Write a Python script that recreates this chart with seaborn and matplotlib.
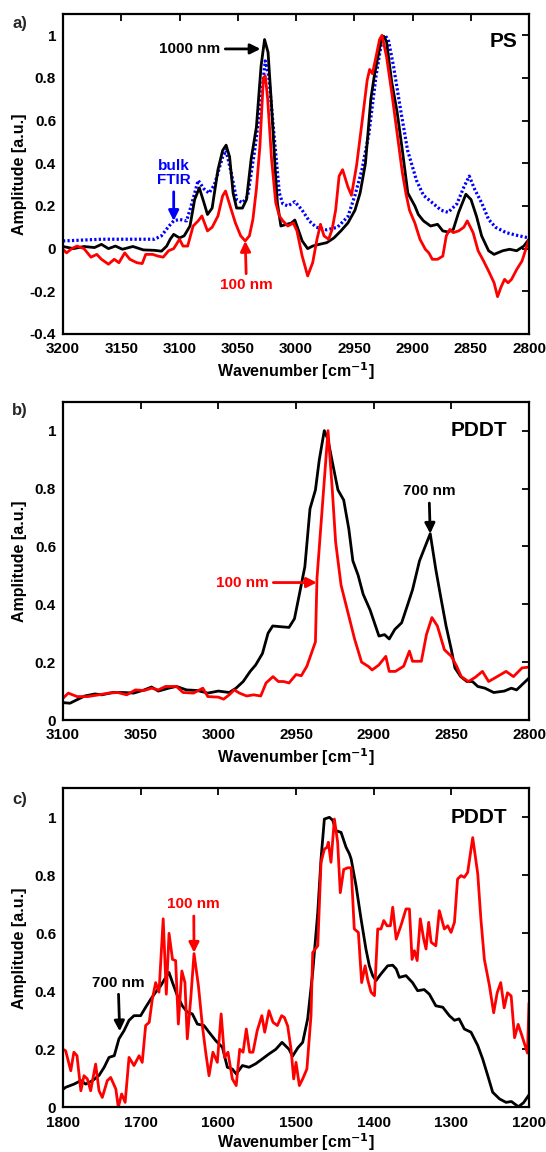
import matplotlib
matplotlib.use("Agg")
import matplotlib.pyplot as plt
import seaborn as sns
import pandas as pd
from matplotlib.ticker import FuncFormatter

# ---------------- data: panel a (PS) ----------------
ps_black_x = [3200, 3191, 3182, 3173, 3167, 3161, 3155, 3149, 3140, 3131, 3121.5, 3115.5, 3111, 3108, 3105, 3100, 3096, 3091, 3087, 3083,
              3079, 3076, 3072, 3067, 3063, 3060, 3057, 3054, 3051, 3046, 3042.5, 3038.5, 3034, 3030, 3027, 3024, 3021, 3018, 3016, 3013,
              3008, 3004, 3001, 2997.7, 2994.7, 2990, 2985.7, 2980, 2973.6, 2967.5, 2961.5, 2955.5, 2949.4, 2945, 2940.4, 2935.8, 2932.8, 2930, 2926.8, 2924.7,
              2922.3, 2917.8, 2913.2, 2908.7, 2904, 2898, 2895, 2890.6, 2884.5, 2878.5, 2874, 2869.4, 2865, 2860.4, 2854.2, 2849.8, 2845, 2840.7, 2834.7, 2830,
              2822.6, 2816.6, 2810.6, 2804.5, 2800]
ps_black_y = [0.01, 0.0, 0.01, 0.005, 0.02, 0.0, 0.012, -0.003, 0.01, -0.006, -0.008, -0.012, 0.012, 0.044, 0.067, 0.05, 0.06, 0.106, 0.23, 0.285,
              0.215, 0.16, 0.19, 0.37, 0.46, 0.485, 0.43, 0.26, 0.19, 0.19, 0.23, 0.42, 0.57, 0.855, 0.98, 0.92, 0.67, 0.385, 0.215, 0.106,
              0.114, 0.12, 0.134, 0.083, 0.036, 0.0, 0.012, 0.02, 0.028, 0.05, 0.083, 0.12, 0.18, 0.26, 0.40, 0.70, 0.81, 0.89, 0.98, 0.995,
              0.97, 0.78, 0.64, 0.46, 0.26, 0.2, 0.16, 0.13, 0.106, 0.114, 0.083, 0.078, 0.09, 0.17, 0.255, 0.23, 0.15, 0.06, -0.01, -0.027,
              -0.01, -0.003, -0.01, 0.012, 0.044]

ps_blue_x = [3200, 3167, 3121.5, 3115.5, 3109, 3105, 3100, 3094, 3090, 3084, 3079, 3074.7, 3070, 3063, 3060, 3055, 3051, 3046, 3041.5, 3035.5,
             3031, 3026.4, 3023.4, 3019, 3014.3, 3011.3, 3007, 3001, 2994.7, 2988.7, 2982.6, 2973.6, 2964.5, 2955.5, 2949.4, 2943.4, 2937.4, 2931.3, 2926.8, 2923.8,
             2920.8, 2916.3, 2910.2, 2904.2, 2896.6, 2890.6, 2883, 2875.5, 2869.4, 2861.9, 2855.8, 2851.3, 2846.8, 2840.7, 2834.7, 2828.7, 2819.6, 2810.6, 2800]
ps_blue_y = [0.036, 0.044, 0.044, 0.06, 0.106, 0.13, 0.137, 0.13, 0.2, 0.32, 0.28, 0.26, 0.30, 0.43, 0.46, 0.34, 0.23, 0.215, 0.245, 0.46,
             0.65, 0.88, 0.81, 0.54, 0.26, 0.21, 0.2, 0.22, 0.18, 0.13, 0.1, 0.088, 0.1, 0.15, 0.25, 0.37, 0.54, 0.81, 0.96, 1.0,
             0.98, 0.855, 0.65, 0.46, 0.32, 0.25, 0.215, 0.18, 0.17, 0.21, 0.29, 0.34, 0.28, 0.215, 0.137, 0.1, 0.075, 0.0625, 0.05]

ps_red_x = [3200, 3197, 3192.5, 3188, 3182, 3176, 3171, 3167, 3161, 3156, 3152, 3147, 3142.6, 3136.6, 3132, 3129, 3123, 3118.5, 3114, 3109.4,
            3105, 3100, 3097, 3093, 3088.3, 3084, 3080.8, 3076, 3072, 3067, 3063, 3060.5, 3056.6, 3052, 3047.5, 3043.6, 3040, 3037, 3034, 3031,
            3028, 3026.4, 3024.3, 3021, 3017.4, 3014.3, 3011.3, 3007, 3002.3, 2999.2, 2994.7, 2990, 2985.7, 2982, 2979, 2976, 2972, 2969, 2966, 2963,
            2960, 2955.5, 2952.4, 2948, 2943.4, 2938.9, 2936.8, 2934.4, 2931.3, 2928.3, 2926.2, 2922.3, 2917.8, 2913.2, 2908.7, 2905.7, 2902.6, 2898, 2893.6, 2889,
            2886, 2883, 2878.5, 2874, 2871, 2868, 2865, 2860.4, 2856, 2853, 2848, 2843.7, 2839, 2834.7, 2830, 2827, 2824, 2821, 2818, 2815,
            2810.5, 2806, 2800]
ps_red_y = [-0.003, -0.02, 0.0, 0.012, 0.0, -0.04, -0.027, -0.05, -0.073, -0.05, -0.066, -0.02, -0.05, -0.066, -0.07, -0.027, -0.027, -0.035, -0.04, -0.01,
            0.0, 0.044, 0.012, 0.012, 0.106, 0.13, 0.153, 0.083, 0.1, 0.153, 0.247, 0.27, 0.2, 0.12, 0.06, 0.036, 0.06, 0.137, 0.28, 0.48,
            0.8, 0.81, 0.7, 0.42, 0.215, 0.153, 0.13, 0.106, 0.12, 0.083, -0.035, -0.128, -0.066, 0.044, 0.114, 0.06, 0.044, 0.09, 0.18, 0.34,
            0.37, 0.29, 0.25, 0.39, 0.59, 0.79, 0.84, 0.82, 0.9, 0.98, 1.0, 0.9, 0.73, 0.54, 0.355, 0.26, 0.18, 0.12, 0.044, -0.003,
            -0.02, -0.05, -0.05, -0.035, 0.06, 0.09, 0.075, 0.083, 0.1, 0.13, 0.075, -0.01, -0.058, -0.105, -0.16, -0.225, -0.18, -0.144, -0.16, -0.144,
            -0.097, -0.058, 0.044]

# ---------------- data: panel b (PDDT, C-H stretch) ----------------
pb_black_x = [3100, 3095.5, 3091, 3086, 3079.5, 3075, 3068, 3061, 3054.5, 3047.7, 3043, 3038.6, 3032, 3027, 3020.5, 3013.6, 3006.8, 3000, 2993, 2988.6,
              2984, 2979.5, 2976, 2971.6, 2968, 2965, 2959, 2954.5, 2951, 2948, 2944.3, 2941, 2937.5, 2935, 2931.8, 2929.5, 2926, 2923, 2919.3, 2916,
              2913.4, 2910, 2906.8, 2902.3, 2896.6, 2893, 2890, 2886.4, 2882, 2878.4, 2875, 2870.5, 2863.6, 2860, 2857, 2853.4, 2850, 2847.7, 2844, 2840,
              2836.4, 2833, 2828.4, 2822.7, 2815.9, 2811.4, 2808, 2804.5, 2800]
pb_black_y = [0.06, 0.058, 0.07, 0.083, 0.09, 0.087, 0.095, 0.095, 0.093, 0.104, 0.114, 0.1, 0.11, 0.116, 0.104, 0.102, 0.093, 0.1, 0.095, 0.11,
              0.133, 0.168, 0.19, 0.23, 0.30, 0.325, 0.322, 0.32, 0.35, 0.43, 0.53, 0.73, 0.795, 0.9, 1.0, 0.97, 0.875, 0.795, 0.76, 0.66,
              0.55, 0.5, 0.435, 0.38, 0.29, 0.295, 0.28, 0.313, 0.336, 0.394, 0.45, 0.55, 0.644, 0.52, 0.43, 0.325, 0.243, 0.18, 0.15, 0.133,
              0.133, 0.116, 0.11, 0.095, 0.1, 0.11, 0.104, 0.122, 0.145]

pb_red_x = [3100, 3096.6, 3091, 3084, 3077, 3070.5, 3064.8, 3059, 3053.4, 3047.7, 3043, 3038.6, 3034, 3027, 3022.7, 3016, 3010, 3006.8, 3000, 2996.6,
            2993, 2989.8, 2986.4, 2981.8, 2977.3, 2972.7, 2969.3, 2964.8, 2961.4, 2958, 2954.5, 2950, 2946.6, 2943, 2937.5, 2936.5, 2929.4, 2926.7, 2924.5, 2921,
            2916.7, 2912.3, 2907.8, 2903.4, 2901, 2896.7, 2892.2, 2890, 2886, 2880.7, 2877, 2875, 2869.3, 2866, 2862.5, 2859, 2854.5, 2850, 2846.6, 2843.6,
            2839, 2834.5, 2830, 2826, 2820.5, 2814.8, 2810, 2804.5, 2800]
pb_red_y = [0.075, 0.093, 0.081, 0.081, 0.087, 0.093, 0.095, 0.087, 0.104, 0.102, 0.11, 0.104, 0.116, 0.116, 0.095, 0.093, 0.11, 0.081, 0.079, 0.072,
            0.087, 0.104, 0.093, 0.083, 0.087, 0.083, 0.128, 0.15, 0.133, 0.133, 0.128, 0.157, 0.153, 0.186, 0.27, 0.49, 1.0, 0.8, 0.615, 0.466,
            0.374, 0.28, 0.2, 0.185, 0.173, 0.19, 0.22, 0.168, 0.168, 0.186, 0.238, 0.203, 0.203, 0.296, 0.354, 0.325, 0.243, 0.22, 0.186, 0.15,
            0.133, 0.148, 0.168, 0.133, 0.15, 0.168, 0.15, 0.18, 0.183]

# ---------------- data: panel c (PDDT, fingerprint) ----------------
pc_black_x = [1800, 1796.6, 1785.8, 1777, 1770.8, 1762, 1753.6, 1747, 1740.8, 1734, 1728, 1721.5, 1715, 1708.6, 1700, 1693.6, 1687, 1680.7, 1674, 1667.8,
              1663.5, 1659, 1652.8, 1646.4, 1640, 1633.5, 1627, 1618.5, 1612, 1603.4, 1594.8, 1588.4, 1582, 1577, 1569, 1560.5, 1552, 1543.3, 1534.8, 1526,
              1518, 1509, 1504.5, 1497.7, 1491.4, 1485, 1478.5, 1472, 1467.8, 1463.5, 1457, 1452.8, 1448.5, 1442, 1435.6, 1431.3, 1429, 1422.7, 1416.3, 1410,
              1405.6, 1401.3, 1397, 1390.6, 1382, 1375.5, 1371, 1367, 1358.4, 1350, 1343.4, 1335, 1328.3, 1320, 1311, 1302.6, 1296, 1290, 1283.3, 1274.7,
              1266, 1259.7, 1253.2, 1246.8, 1238, 1229.6, 1222.7, 1213.6, 1207, 1200]
pc_black_y = [0.062, 0.069, 0.08, 0.092, 0.08, 0.092, 0.11, 0.138, 0.172, 0.178, 0.236, 0.264, 0.3, 0.316, 0.316, 0.345, 0.373, 0.397, 0.42, 0.448,
              0.465, 0.43, 0.385, 0.35, 0.328, 0.322, 0.287, 0.282, 0.259, 0.23, 0.207, 0.138, 0.132, 0.115, 0.144, 0.138, 0.15, 0.167, 0.184, 0.2,
              0.224, 0.2, 0.176, 0.205, 0.224, 0.305, 0.466, 0.672, 0.856, 0.994, 1.0, 0.99, 0.954, 0.948, 0.897, 0.874, 0.856, 0.764, 0.65, 0.546,
              0.488, 0.454, 0.437, 0.46, 0.488, 0.49, 0.477, 0.448, 0.454, 0.43, 0.402, 0.406, 0.39, 0.35, 0.345, 0.316, 0.3, 0.305, 0.27, 0.259,
              0.213, 0.167, 0.11, 0.052, 0.029, 0.017, 0.02, 0.002, 0.016, 0.043]

pc_red_x = [1800, 1796.6, 1790, 1786, 1782, 1777, 1773, 1768.7, 1764.4, 1758, 1753.6, 1749.4, 1743, 1738.6, 1732, 1728.8, 1724.5, 1720, 1715, 1708.6,
            1702, 1698, 1693.6, 1689, 1685, 1680.7, 1676.4, 1671, 1667, 1663.5, 1659, 1655, 1651.5, 1647, 1643, 1640, 1635.6, 1631.3, 1625.7, 1620.6,
            1616.3, 1612, 1607, 1601.3, 1596.4, 1592, 1587.6, 1582, 1577, 1572.5, 1568.2, 1564, 1559.7, 1555.4, 1550, 1544, 1540.3, 1534.8, 1529.6, 1524,
            1518.5, 1515, 1510.7, 1506.4, 1503, 1500, 1495.7, 1491.4, 1486, 1480.7, 1478.5, 1472, 1467.8, 1463.5, 1460, 1458.4, 1455, 1450.6, 1446.4, 1443,
            1438.6, 1433.5, 1429, 1425, 1419.7, 1415.5, 1411, 1407.7, 1403.4, 1399, 1394.8, 1390.6, 1387, 1382.8, 1378.5, 1375.5, 1371, 1365, 1358.4, 1354,
            1350.6, 1347.6, 1344, 1340, 1335.6, 1332.6, 1329.2, 1326, 1320, 1315.5, 1309, 1304.7, 1300.4, 1296, 1292, 1287.6, 1283.3, 1279, 1272.5, 1266,
            1262, 1257.5, 1251, 1245.5, 1241, 1236.4, 1232, 1227.7, 1223, 1218.6, 1214, 1209.5, 1202, 1200]
pc_red_y = [0.2, 0.195, 0.126, 0.19, 0.178, 0.057, 0.109, 0.098, 0.057, 0.149, 0.057, 0.034, 0.092, 0.103, 0.063, 0.0, 0.046, 0.017, 0.172, 0.144,
            0.178, 0.155, 0.282, 0.293, 0.373, 0.43, 0.397, 0.65, 0.39, 0.6, 0.51, 0.506, 0.287, 0.47, 0.43, 0.236, 0.373, 0.53, 0.42, 0.282,
            0.19, 0.109, 0.19, 0.155, 0.322, 0.172, 0.19, 0.098, 0.075, 0.2, 0.19, 0.27, 0.19, 0.19, 0.264, 0.316, 0.259, 0.333, 0.293, 0.282,
            0.316, 0.31, 0.28, 0.2, 0.098, 0.155, 0.075, 0.098, 0.132, 0.316, 0.534, 0.557, 0.845, 0.89, 0.897, 0.914, 0.845, 0.994, 0.914, 0.74,
            0.82, 0.826, 0.826, 0.615, 0.603, 0.43, 0.488, 0.44, 0.397, 0.385, 0.615, 0.615, 0.644, 0.626, 0.626, 0.69, 0.58, 0.626, 0.684, 0.684,
            0.51, 0.54, 0.506, 0.65, 0.58, 0.546, 0.638, 0.569, 0.557, 0.678, 0.615, 0.626, 0.603, 0.638, 0.787, 0.799, 0.793, 0.81, 0.93, 0.805,
            0.65, 0.51, 0.42, 0.326, 0.395, 0.43, 0.343, 0.395, 0.384, 0.24, 0.286, 0.25, 0.187, 0.36]

# tick definitions
xticks_a = [3200, 3150, 3100, 3050, 3000, 2950, 2900, 2850, 2800]
yticks_a = [-0.4, -0.2, 0, 0.2, 0.4, 0.6, 0.8, 1]
xticks_b = [3100, 3050, 3000, 2950, 2900, 2850, 2800]
xticks_c = [1800, 1700, 1600, 1500, 1400, 1300, 1200]
yticks_bc = [0, 0.2, 0.4, 0.6, 0.8, 1]

# ---------------- styling ----------------
sns.set_theme(style="white")
plt.rcParams['font.family'] = ['Liberation Sans', 'DejaVu Sans']
plt.rcParams['font.weight'] = 'bold'
plt.rcParams['axes.labelweight'] = 'bold'
plt.rcParams['mathtext.default'] = 'bf'

BLACK = '#000000'
RED = '#ff0000'
BLUE = '#0000ff'
LW = 2.0
FS = 11

fig = plt.figure(figsize=(5.46, 11.52), dpi=100)
L, W = 0.1154, 0.8535
ax_a = fig.add_axes([L, 0.7101, W, 0.2778])
ax_b = fig.add_axes([L, 0.3750, W, 0.2763])
ax_c = fig.add_axes([L, 0.0388, W, 0.2769])

fmt = FuncFormatter(lambda v, p: '%g' % round(v, 3))


def draw(ax, x, y, color, ls='-', lw=LW):
    df = pd.DataFrame({'x': x, 'y': y})
    sns.lineplot(data=df, x='x', y='y', ax=ax, color=color, lw=lw, linestyle=ls,
                 estimator=None, sort=False, legend=False)


def style(ax, xlim, xticks, ylim, yticks, labelpad=3):
    ax.set_xlim(*xlim)
    ax.set_ylim(*ylim)
    ax.set_xticks(xticks)
    ax.set_yticks(yticks)
    ax.xaxis.set_major_formatter(fmt)
    ax.yaxis.set_major_formatter(fmt)
    ax.tick_params(direction='in', top=True, right=True, length=5, width=1.3,
                   labelsize=FS, color='black', labelcolor='black')
    ax.tick_params(axis='x', pad=6)
    ax.tick_params(axis='y', pad=5)
    for lab in ax.get_xticklabels() + ax.get_yticklabels():
        lab.set_fontweight('bold')
    for s in ax.spines.values():
        s.set_visible(True)
        s.set_color('black')
        s.set_linewidth(1.6)
    ax.set_xlabel('Wavenumber [cm$^{-1}$]', fontsize=11.5, fontweight='bold', color='black', labelpad=labelpad)
    ax.set_ylabel('Amplitude [a.u.]', fontsize=11.5, fontweight='bold', color='black')
    ax.yaxis.set_label_coords(-0.078, 0.5)


def note(ax, txt, xy, xytext, color, fs=FS):
    ax.annotate(txt, xy=xy, xytext=xytext, color=color, fontsize=fs, fontweight='bold',
                ha='center', va='center',
                arrowprops=dict(arrowstyle='-|>', color=color, lw=2, mutation_scale=15,
                                shrinkA=1, shrinkB=0))


# panel a
draw(ax_a, ps_blue_x, ps_blue_y, BLUE, ls=(0, (0.7, 0.7)), lw=2.3)
draw(ax_a, ps_black_x, ps_black_y, BLACK)
draw(ax_a, ps_red_x, ps_red_y, RED)
style(ax_a, (3200, 2800), xticks_a, (-0.4, 1.1), yticks_a)
ax_a.text(2822, 0.97, 'PS', fontsize=15, fontweight='bold', ha='center', va='center', color='black')
note(ax_a, '1000 nm', (3030.5, 0.936), (3091, 0.936), BLACK)
ax_a.annotate('bulk\nFTIR', xy=(3105, 0.13), xytext=(3105, 0.355), color=BLUE, fontsize=FS,
              fontweight='bold', ha='center', va='center', linespacing=1.05,
              arrowprops=dict(arrowstyle='-|>', color=BLUE, lw=2, mutation_scale=15, shrinkA=1, shrinkB=0))
note(ax_a, '100 nm', (3043.6, 0.036), (3042.5, -0.172), RED)

# panel b
draw(ax_b, pb_black_x, pb_black_y, BLACK)
draw(ax_b, pb_red_x, pb_red_y, RED)
style(ax_b, (3100, 2800), xticks_b, (0, 1.1), yticks_bc)
ax_b.text(2832, 1.0, 'PDDT', fontsize=15, fontweight='bold', ha='center', va='center', color='black')
note(ax_b, '700 nm', (2863.6, 0.644), (2864.4, 0.79), BLACK)
note(ax_b, '100 nm', (2936.6, 0.475), (2984.6, 0.475), RED)

# panel c
draw(ax_c, pc_black_x, pc_black_y, BLACK)
draw(ax_c, pc_red_x, pc_red_y, RED)
style(ax_c, (1800, 1200), xticks_c, (0, 1.1), yticks_bc, labelpad=1)
ax_c.text(1265, 1.0, 'PDDT', fontsize=15, fontweight='bold', ha='center', va='center', color='black')
note(ax_c, '100 nm', (1631.3, 0.533), (1631.7, 0.70), RED)
note(ax_c, '700 nm', (1727, 0.262), (1729, 0.43), BLACK)

# panel letters
fig.text(0.022, 0.980, 'a)', fontsize=12, fontweight='bold', ha='left', va='center')
fig.text(0.022, 0.644, 'b)', fontsize=12, fontweight='bold', ha='left', va='center')
fig.text(0.022, 0.3056, 'c)', fontsize=12, fontweight='bold', ha='left', va='center')

fig.savefig('out.png', dpi=100, facecolor='white')
